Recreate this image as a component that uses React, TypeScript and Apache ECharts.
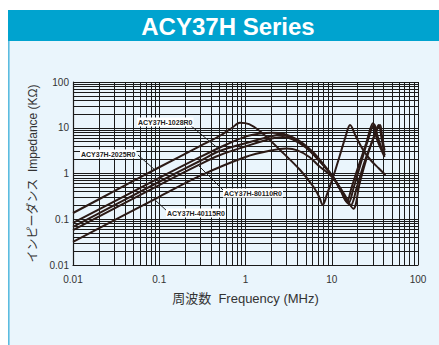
import React, { useEffect, useRef } from "react";
import * as echarts from "echarts";

// Tick values and labels
const xTickValues = [0.01, 0.1, 1, 10, 100];
const xTickLabels = ["0.01", "0.1", "1", "10", "100"];
const yTickValues = [0.01, 0.1, 1, 10, 100];
const yTickLabels = ["0.01", "0.1", "1", "10", "100"];
const minorMultipliers = [2, 3, 4, 5, 6, 7, 8, 9];
const decades = [0.01, 0.1, 1, 10];

// Series (frequency MHz, impedance kΩ)
const name2025 = "ACY37H-2025R0";
const freq2025 = [0.01, 0.03, 0.1, 0.3, 0.5, 0.7, 0.86, 1.1, 1.5, 2.5, 4.3, 6.1, 7.2, 7.86, 8.8, 10.5, 12.5, 14.5, 16.3, 19, 23, 28, 35, 42];
const imp2025 = [0.137, 0.41, 1.37, 4.0, 6.6, 10.0, 12.9, 12.0, 8.2, 3.3, 1.19, 0.52, 0.3, 0.205, 0.35, 0.9, 2.6, 6.5, 11.5, 6.5, 3.3, 2.0, 1.3, 0.93];

const nameB = "ACY37H-series-B";
const freqB = [0.01, 0.1, 0.3, 0.6, 1.0, 1.5, 2.0, 2.8, 4, 6, 8, 10.3, 12.5, 14.9, 17, 20, 25, 30, 33, 37, 41];
const impB = [0.083, 0.8, 2.3, 4.3, 6.4, 7.5, 7.8, 7.3, 5.5, 3.0, 1.6, 0.85, 0.45, 0.24, 0.5, 1.3, 4.5, 12.5, 6, 3.5, 2.3];

const name1028 = "ACY37H-1028R0";
const freq1028 = [0.01, 0.1, 0.3, 0.5, 1.0, 2.0, 2.5, 3.5, 5, 7, 10.3, 13, 15.5, 18, 22, 26, 31, 34, 38, 41];
const imp1028 = [0.068, 0.66, 1.9, 3.1, 4.6, 6.5, 7.0, 6.0, 3.8, 2.0, 0.85, 0.4, 0.22, 0.5, 1.8, 5.0, 12, 6.5, 3.5, 2.5];

const name80110 = "ACY37H-80110R0";
const freq80110 = [0.01, 0.1, 0.3, 0.5, 1.0, 2.0, 2.7, 3.5, 5, 7, 10.3, 14, 17.8, 21, 26, 31, 36.3, 38.5, 41];
const imp80110 = [0.058, 0.56, 1.6, 2.5, 3.9, 5.8, 6.3, 5.6, 3.7, 2.0, 0.85, 0.35, 0.17, 0.6, 2.5, 6.5, 11.5, 6, 3.2];

const name40115 = "ACY37H-40115R0";
const freq40115 = [0.01, 0.1, 0.3, 1.0, 2.0, 3.0, 4, 5.5, 7, 10.3, 13, 16.5, 19.5, 24, 30, 35, 38, 41];
const imp40115 = [0.032, 0.31, 0.9, 2.3, 3.2, 3.5, 3.2, 2.3, 1.5, 0.8, 0.4, 0.2, 0.5, 1.8, 5.5, 11.5, 5.5, 2.5];

const curves = [
  { name: name2025, f: freq2025, z: imp2025 },
  { name: nameB, f: freqB, z: impB },
  { name: name1028, f: freq1028, z: imp1028 },
  { name: name80110, f: freq80110, z: imp80110 },
  { name: name40115, f: freq40115, z: imp40115 },
];

const FONT = '"Liberation Sans", Arial, "Noto Sans CJK JP", sans-serif';

function nearestLabel(v: number, vals: number[], labels: string[]) {
  let best = 0;
  let bd = Infinity;
  vals.forEach((t, i) => {
    const d = Math.abs(Math.log10(v) - Math.log10(t));
    if (d < bd) { bd = d; best = i; }
  });
  return labels[best];
}

export default function App() {
  const ref = useRef<HTMLDivElement>(null);
  useEffect(() => {
    if (!ref.current) return;
    const chart = echarts.init(ref.current, null, { renderer: "svg" });
    const minorX: number[] = [];
    const minorY: number[] = [];
    decades.forEach((d) => minorMultipliers.forEach((m) => { minorX.push(d * m); minorY.push(d * m); }));

    const gridLineStyle = { color: "#1a1a1a", width: 1, type: "solid" as const };

    const option: any = {
      animation: false,
      grid: { left: 73, right: 21, top: 82, bottom: 80, containLabel: false },
      xAxis: {
        type: "log",
        logBase: 10,
        min: 0.01,
        max: 100,
        axisLine: { show: true, lineStyle: { color: "#1a1a1a", width: 1.2 } },
        axisTick: { show: false },
        splitLine: { show: true, lineStyle: { color: "#1a1a1a", width: 1 } },
        axisLabel: {
          color: "#333",
          fontSize: 10,
          fontFamily: FONT,
          margin: 9,
          formatter: (v: number) => nearestLabel(v, xTickValues, xTickLabels),
        },
        name: "周波数  Frequency (MHz)",
        nameLocation: "middle",
        nameGap: 27,
        nameTextStyle: { color: "#333", fontSize: 13, fontFamily: FONT },
      },
      yAxis: {
        type: "log",
        logBase: 10,
        min: 0.01,
        max: 100,
        axisLine: { show: true, lineStyle: { color: "#1a1a1a", width: 1.2 } },
        axisTick: { show: false },
        splitLine: { show: true, lineStyle: { color: "#1a1a1a", width: 1 } },
        axisLabel: {
          color: "#333",
          fontSize: 10,
          fontFamily: FONT,
          margin: 4,
          formatter: (v: number) => nearestLabel(v, yTickValues, yTickLabels),
        },
        name: "インピーダンス  Impedance (KΩ)",
        nameLocation: "middle",
        nameGap: 31,
        nameRotate: 90,
        nameTextStyle: { color: "#333", fontSize: 12, fontFamily: FONT },
      },
      graphic: [
        { type: "rect", z: -10, shape: { x: 8, y: 41, width: 431, height: 304 }, style: { fill: "#EAF5FC" } },
        { type: "rect", z: -9, shape: { x: 8, y: 41, width: 1.6, height: 304 }, style: { fill: "#5BBCE0" } },
        { type: "rect", z: -9, shape: { x: 8, y: 10, width: 431, height: 31 }, style: { fill: "#00A3CF" } },
        {
          type: "text", z: 10, x: 228, y: 26,
          style: { text: "ACY37H Series", fill: "#ffffff", font: `bold 24px ${FONT}`, textAlign: "center", textVerticalAlign: "middle" },
        },
        // annotations
        { type: "line", z: 20, shape: { x1: 190, y1: 125, x2: 220, y2: 150 }, style: { stroke: "#222", lineWidth: 1 } },
        {
          type: "text", z: 21, x: 137, y: 122,
          style: { text: name1028, fill: "#222", font: `bold 7px ${FONT}`, textVerticalAlign: "middle", backgroundColor: "#fff", padding: [1, 1] },
        },
        { type: "line", z: 20, shape: { x1: 138, y1: 155, x2: 155, y2: 170 }, style: { stroke: "#222", lineWidth: 1 } },
        {
          type: "text", z: 21, x: 80, y: 154,
          style: { text: name2025, fill: "#222", font: `bold 7px ${FONT}`, textVerticalAlign: "middle", backgroundColor: "#fff", padding: [1, 1] },
        },
        { type: "line", z: 20, shape: { x1: 223, y1: 190, x2: 198, y2: 165 }, style: { stroke: "#222", lineWidth: 1 } },
        {
          type: "text", z: 21, x: 223, y: 193,
          style: { text: name80110, fill: "#222", font: `bold 7px ${FONT}`, textVerticalAlign: "middle", backgroundColor: "#fff", padding: [1, 1] },
        },
        { type: "line", z: 20, shape: { x1: 167, y1: 211, x2: 155, y2: 200 }, style: { stroke: "#222", lineWidth: 1 } },
        {
          type: "text", z: 21, x: 166, y: 213,
          style: { text: name40115, fill: "#222", font: `bold 7px ${FONT}`, textVerticalAlign: "middle", backgroundColor: "#fff", padding: [1, 1] },
        },
      ],
      series: [
        {
          type: "line",
          name: "minor-grid",
          data: [],
          silent: true,
          z: 1,
          markLine: {
            silent: true,
            symbol: ["none", "none"],
            label: { show: false },
            lineStyle: gridLineStyle,
            emphasis: { disabled: true },
            data: [
              ...minorX.map((v) => ({ xAxis: v })),
              ...minorY.map((v) => ({ yAxis: v })),
            ],
          },
        },
        ...curves.map((c) => ({
          type: "line",
          name: c.name,
          data: c.f.map((f, i) => [f, c.z[i]]),
          showSymbol: false,
          smooth: 0.35,
          z: 5,
          lineStyle: { color: "#2b1a16", width: 2 },
        })),
      ],
    };
    chart.setOption(option);
    return () => chart.dispose();
  }, []);
  return <div ref={ref} style={{ position: "absolute", left: 0, top: 0, width: 439, height: 345 }} />;
}
